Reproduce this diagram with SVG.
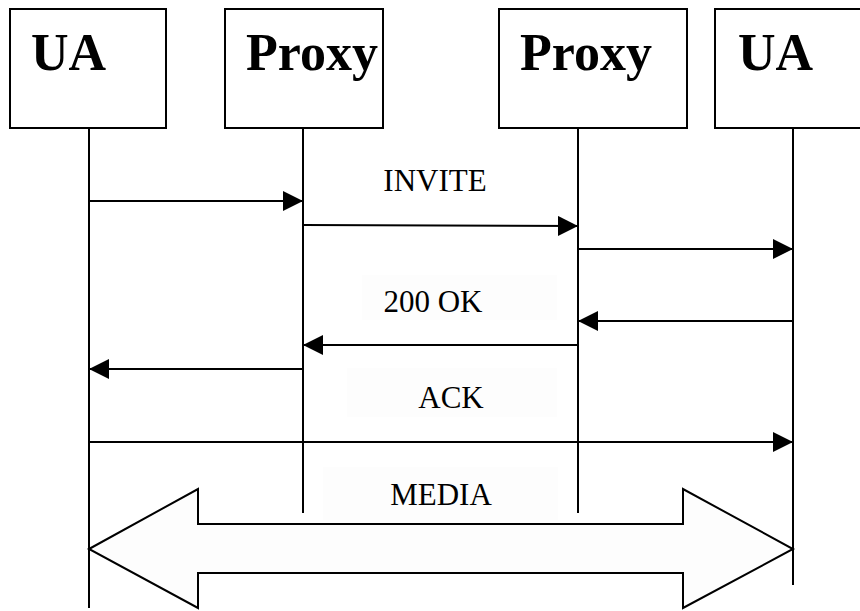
<svg xmlns="http://www.w3.org/2000/svg" width="860" height="611" viewBox="0 0 860 611">
  <style>
    .box { fill: #ffffff; stroke: #000000; stroke-width: 2; }
    .title { font-family: "Liberation Serif", "Times New Roman", serif; font-weight: bold; font-size: 52px; fill: #000000; }
    .life { stroke: #000000; stroke-width: 2; fill: none; }
    .msg { stroke: #000000; stroke-width: 2; fill: none; marker-end: url(#head); }
    .label { font-family: "Liberation Serif", "Times New Roman", serif; font-size: 31px; fill: #000000; text-anchor: middle; }
    .labelbg { fill: #fdfdfd; stroke: none; }
    .media { fill: #fdfdfd; stroke: #000000; stroke-width: 2; stroke-linejoin: miter; }
  </style>
  <defs>
    <marker id="head" markerUnits="userSpaceOnUse" markerWidth="21" markerHeight="22" refX="20" refY="10" orient="auto">
      <path d="M0,0 L20,10 L0,20 Z" fill="#000000"/>
    </marker>
  </defs>
  <rect width="860" height="611" fill="#ffffff"/>

  <!-- participants -->
  <g id="ua-left">
    <rect class="box" x="10" y="9" width="156" height="119"/>
    <text class="title" x="31" y="70">UA</text>
  </g>
  <g id="proxy-left">
    <rect class="box" x="225" y="9" width="158" height="119"/>
    <text class="title" x="246" y="70">Proxy</text>
  </g>
  <g id="proxy-right">
    <rect class="box" x="499" y="9" width="188" height="119"/>
    <text class="title" x="520" y="70">Proxy</text>
  </g>
  <g id="ua-right">
    <rect class="box" x="715" y="9" width="160" height="119"/>
    <text class="title" x="738" y="70">UA</text>
  </g>

  <!-- label backdrops -->
  <g id="label-backdrops">
    <rect class="labelbg" x="362" y="275" width="195" height="45"/>
    <rect class="labelbg" x="347" y="368" width="210" height="49"/>
    <rect class="labelbg" x="323" y="467" width="235" height="53"/>
  </g>

  <!-- lifelines -->
  <g id="lifelines">
    <line class="life" x1="89" y1="128" x2="89" y2="608"/>
    <line class="life" x1="303" y1="128" x2="303" y2="513"/>
    <line class="life" x1="578" y1="128" x2="578" y2="513"/>
    <line class="life" x1="793" y1="128" x2="793" y2="585"/>
  </g>

  <!-- messages -->
  <g id="connectors">
    <line class="msg" x1="89" y1="201" x2="303" y2="201"/>
    <line class="msg" x1="303" y1="225" x2="578" y2="226"/>
    <line class="msg" x1="578" y1="249" x2="793" y2="249"/>
    <line class="msg" x1="793" y1="321" x2="578" y2="321"/>
    <line class="msg" x1="578" y1="345" x2="303" y2="345"/>
    <line class="msg" x1="303" y1="369" x2="89" y2="369"/>
    <line class="msg" x1="89" y1="442" x2="793" y2="442"/>
    <polygon class="media" points="89,549 198,489 198,524 683,524 683,489 793,549 683,608 683,573 198,573 198,608"/>
  </g>

  <!-- message labels -->
  <g id="labels">
    <text class="label" x="435" y="191">INVITE</text>
    <text class="label" x="433" y="312">200 OK</text>
    <text class="label" x="451" y="408">ACK</text>
    <text class="label" x="441" y="505">MEDIA</text>
  </g>
</svg>
